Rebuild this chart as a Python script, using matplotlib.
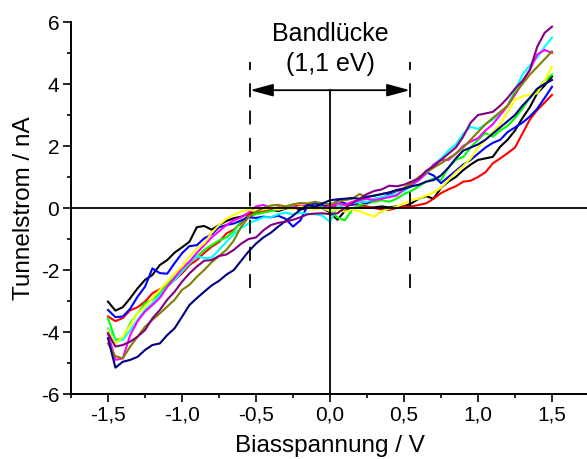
import numpy as np
import matplotlib
matplotlib.use("Agg")
import matplotlib.pyplot as plt
from matplotlib.ticker import MultipleLocator, FuncFormatter

plt.rcParams["font.family"] = ["Liberation Sans", "DejaVu Sans"]
plt.rcParams["axes.unicode_minus"] = False

# bias voltage sample points (V), every 0.05 V
bias = np.linspace(-1.5, 1.5, 61)

# tunnel current curves (nA)
black = [
    -3.02, -3.31, -3.20, -2.91, -2.59, -2.32, -2.16, -1.84, -1.68, -1.44,
    -1.27, -1.09, -0.62, -0.58, -0.70, -0.55, -0.42, -0.33, -0.28, -0.18,
    -0.12, -0.10, -0.05, -0.10, -0.02, 0.02, -0.05, 0.00, 0.05, 0.00,
    -0.15, -0.38, -0.10, 0.00, 0.02, 0.00, 0.02, 0.05, 0.02, 0.05,
    0.05, 0.15, 0.30, 0.38, 0.30, 0.65, 0.85, 1.00, 1.22, 1.40,
    1.55, 1.60, 1.65, 1.98, 2.20, 2.50, 2.90, 3.25, 3.70, 3.95,
    4.24]
red = [
    -3.50, -3.65, -3.55, -3.30, -3.20, -3.02, -2.75, -2.62, -2.50, -2.32,
    -2.11, -1.84, -1.68, -1.45, -1.25, -1.10, -0.82, -0.70, -0.48, -0.22,
    -0.17, -0.10, -0.05, 0.02, 0.00, 0.05, 0.08, 0.05, 0.00, 0.05,
    0.10, 0.05, 0.10, 0.12, 0.10, 0.05, 0.00, -0.05, -0.06, 0.00,
    0.05, 0.05, 0.10, 0.15, 0.30, 0.48, 0.60, 0.70, 0.85, 0.88,
    1.00, 1.15, 1.44, 1.60, 1.77, 1.95, 2.40, 2.85, 3.16, 3.40,
    3.65]
green = [
    -3.56, -4.25, -4.20, -3.72, -3.40, -3.07, -2.95, -2.75, -2.48, -2.22,
    -2.00, -1.78, -1.57, -1.35, -1.20, -1.05, -0.95, -0.75, -0.42, -0.28,
    -0.20, -0.15, -0.10, -0.05, 0.00, 0.05, 0.00, 0.05, 0.10, 0.05,
    -0.10, -0.30, -0.40, -0.05, 0.10, 0.15, 0.20, 0.25, 0.20, 0.30,
    0.45, 0.55, 0.70, 0.85, 0.95, 0.90, 1.30, 1.55, 1.65, 1.95,
    2.20, 2.42, 2.30, 2.50, 2.65, 2.90, 3.20, 3.55, 3.80, 4.10,
    4.30]
blue = [
    -3.29, -3.52, -3.50, -3.25, -2.86, -2.54, -1.95, -2.10, -2.12, -1.78,
    -1.46, -1.23, -1.20, -0.98, -0.85, -0.62, -0.55, -0.50, -0.40, -0.30,
    -0.32, -0.28, -0.30, -0.25, -0.35, -0.60, -0.40, 0.10, 0.15, 0.10,
    0.00, 0.25, 0.15, 0.10, 0.20, 0.15, 0.30, 0.30, 0.45, 0.55,
    0.60, 0.70, 0.95, 1.15, 1.05, 0.80, 1.00, 1.20, 1.40, 1.55,
    1.75, 1.95, 2.10, 2.20, 2.45, 2.60, 2.75, 2.95, 3.20, 3.55,
    3.91]
cyan = [
    -3.88, -4.30, -4.25, -3.95, -3.60, -3.29, -3.07, -2.81, -2.54, -2.32,
    -2.05, -1.78, -1.55, -1.62, -1.60, -1.35, -1.09, -0.85, -0.65, -0.50,
    -0.40, -0.30, -0.30, -0.20, -0.15, -0.20, -0.15, -0.20, -0.20, -0.25,
    -0.45, 0.05, 0.10, 0.15, 0.20, 0.20, 0.30, 0.35, 0.40, 0.45,
    0.55, 0.70, 0.90, 1.10, 1.40, 1.60, 1.85, 2.05, 2.40, 2.62,
    2.55, 2.70, 2.85, 3.05, 3.30, 3.80, 4.30, 4.60, 4.85, 5.20,
    5.50]
magenta = [
    -4.04, -4.90, -4.85, -4.10, -3.65, -3.34, -3.13, -2.90, -2.55, -2.25,
    -1.95, -1.73, -1.45, -1.20, -0.95, -0.75, -0.55, -0.40, -0.30, -0.15,
    0.05, 0.10, 0.00, -0.05, 0.00, 0.02, 0.05, 0.10, 0.05, 0.00,
    0.05, 0.15, 0.10, 0.20, 0.25, 0.30, 0.25, 0.30, 0.35, 0.40,
    0.60, 0.75, 0.90, 1.12, 1.40, 1.55, 1.55, 1.75, 2.00, 2.14,
    2.25, 2.50, 2.70, 3.00, 3.30, 3.65, 4.05, 4.45, 4.95, 5.10,
    5.00]
yellow = [
    -3.94, -4.37, -4.15, -3.78, -3.40, -3.18, -2.91, -2.64, -2.38, -2.11,
    -1.89, -1.57, -1.30, -1.14, -0.80, -0.55, -0.35, -0.22, -0.12, -0.05,
    -0.10, -0.05, 0.00, -0.05, 0.00, -0.05, 0.05, 0.00, -0.05, 0.00,
    -0.10, -0.05, -0.12, -0.05, -0.10, -0.20, -0.28, -0.10, -0.02, 0.04,
    0.15, 0.25, 0.30, 0.40, 0.50, 0.65, 0.90, 1.15, 1.35, 1.60,
    1.95, 2.20, 2.45, 2.70, 3.10, 3.50, 3.60, 3.65, 3.70, 4.10,
    4.56]
olive = [
    -4.37, -4.78, -4.85, -4.47, -4.15, -3.83, -3.61, -3.40, -3.18, -2.96,
    -2.64, -2.48, -2.22, -2.00, -1.75, -1.55, -1.35, -1.05, -0.60, -0.30,
    -0.12, 0.00, 0.08, 0.10, 0.05, 0.12, 0.16, 0.15, 0.20, 0.15,
    0.12, 0.20, 0.25, 0.30, 0.45, 0.35, 0.40, 0.45, 0.50, 0.55,
    0.65, 0.80, 1.00, 1.15, 1.30, 1.44, 1.60, 1.75, 1.95, 2.20,
    2.45, 2.70, 2.90, 3.10, 3.30, 3.70, 4.00, 4.30, 4.55, 4.80,
    5.05]
navy = [
    -4.20, -5.15, -4.96, -4.90, -4.80, -4.58, -4.42, -4.37, -4.10, -3.88,
    -3.51, -3.13, -2.91, -2.70, -2.50, -2.35, -2.15, -2.00, -1.70, -1.40,
    -1.15, -0.95, -0.80, -0.60, -0.42, -0.25, -0.05, 0.10, 0.04, 0.15,
    0.25, 0.28, 0.30, 0.32, 0.30, 0.36, 0.40, 0.45, 0.50, 0.58,
    0.62, 0.70, 0.75, 0.85, 0.90, 1.05, 1.30, 1.60, 1.85, 1.95,
    2.05, 2.20, 2.40, 2.60, 2.80, 3.00, 3.30, 3.55, 3.85, 4.00,
    4.13]
purple = [
    -4.04, -4.47, -4.42, -4.31, -4.15, -3.94, -3.56, -3.29, -2.96, -2.70,
    -2.38, -2.11, -1.89, -1.70, -1.68, -1.55, -1.50, -1.35, -1.15, -1.00,
    -0.95, -0.72, -0.55, -0.48, -0.44, -0.38, -0.30, -0.20, -0.18, -0.17,
    -0.20, -0.17, 0.00, 0.15, 0.30, 0.45, 0.55, 0.60, 0.72, 0.70,
    0.75, 0.85, 0.95, 1.20, 1.35, 1.55, 1.75, 1.95, 2.30, 2.75,
    3.00, 3.05, 3.10, 3.30, 3.55, 3.85, 4.10, 4.45, 5.20, 5.65,
    5.85]

curves = [black, red, green, blue, cyan, magenta, yellow, olive, navy, purple]
colors = ["#000000", "#FF0000", "#00FF00", "#0000FF", "#00FFFF",
          "#FF00FF", "#FFFF00", "#808000", "#000080", "#800080"]

gap_edge = 0.54      # band gap edges (V)
arrow_y = 3.8

fig = plt.figure(figsize=(5.87, 4.59), dpi=100)
ax = fig.add_axes([71 / 587, 65 / 459, 518 / 587, 372 / 459])

for y, c in zip(curves, colors):
    ax.plot(bias, y, color=c, lw=1.5)

# zero lines
ax.axhline(0, color="black", lw=1.3)
ax.plot([0, 0], [-6, arrow_y], color="black", lw=1.3)

# band gap markers
for xe in (-gap_edge, gap_edge):
    ax.plot([xe, xe], [4.72, -2.65], color="black", lw=1.3,
            linestyle=(3.3, (7.7, 7.4)))
ax.annotate("", xy=(gap_edge, arrow_y), xytext=(-gap_edge, arrow_y),
            arrowprops=dict(arrowstyle="<|-|>,head_length=1.4,head_width=0.38",
                            mutation_scale=10, color="black", lw=1.3,
                            shrinkA=0, shrinkB=0))
ax.text(0, 5.6, "Bandlücke", ha="center", va="center", fontsize=18)
ax.text(0, 4.65, "(1,1 eV)", ha="center", va="center", fontsize=18)

ax.set_xlim(-1.75, 1.75)
ax.set_ylim(-6, 6)
ax.xaxis.set_major_locator(MultipleLocator(0.5))
ax.xaxis.set_minor_locator(MultipleLocator(0.25))
ax.yaxis.set_major_locator(MultipleLocator(2))
ax.yaxis.set_minor_locator(MultipleLocator(1))
ax.xaxis.set_major_formatter(FuncFormatter(lambda v, p: f"{v:.1f}".replace(".", ",")))
ax.yaxis.set_major_formatter(FuncFormatter(lambda v, p: f"{v:.0f}"))

for s in ("top", "right"):
    ax.spines[s].set_visible(False)
for s in ("left", "bottom"):
    ax.spines[s].set_linewidth(1.4)
ax.tick_params(which="major", direction="out", length=5.5, width=1.2,
               labelsize=15, pad=3)
ax.tick_params(which="minor", direction="out", length=3, width=1.2)

ax.set_xlabel("Biasspannung / V", fontsize=17.5, labelpad=7.5)
ax.set_ylabel("Tunnelstrom / nA", fontsize=17.5, labelpad=4)

fig.savefig("out.png", dpi=100)
